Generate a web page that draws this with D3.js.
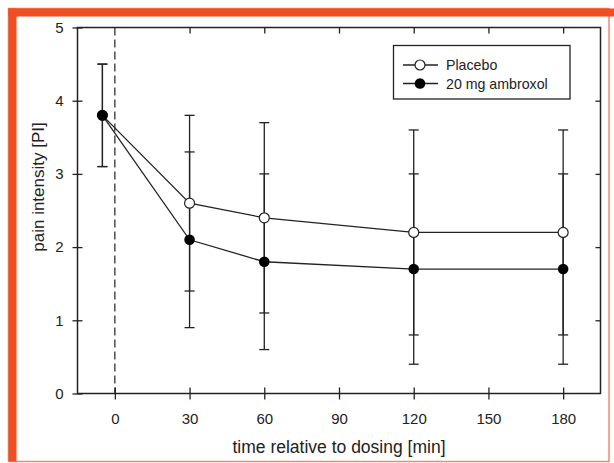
<!DOCTYPE html>
<html>
<head>
<meta charset="utf-8">
<script src="https://cdn.jsdelivr.net/npm/d3@7"></script>
<style>
  body { margin: 0; background: #fff; }
  svg text { font-family: "Liberation Sans", Arial, sans-serif; fill: #222; }
</style>
</head>
<body>
<div id="area"></div>
<script>
// data
let times = [-5, 30, 60, 120, 180]
let placebo = [3.8, 2.6, 2.4, 2.2, 2.2]
let placebo_sd = [0.7, 1.2, 1.3, 1.4, 1.4]
let ambroxol = [3.8, 2.1, 1.8, 1.7, 1.7]
let ambroxol_sd = [0.7, 1.2, 1.2, 1.3, 1.3]
let x_ticks = [0, 30, 60, 90, 120, 150, 180]
let y_ticks = [0, 1, 2, 3, 4, 5]
let series_names = ['Placebo', '20 mg ambroxol']

let width = 614
let height = 463
let ink = '#222'
let frame_color = '#F04E23'
let frame_light = '#F3896B'

let svg = d3.select('#area').append('svg')
  .attr('width', width).attr('height', height)

// orange frame
svg.append('rect')
  .attr('x', 8.5).attr('y', 8.5).attr('width', 600.5).attr('height', 453)
  .attr('fill', 'none').attr('stroke', frame_light).attr('stroke-width', 1.5)
svg.append('rect').attr('x', 8.5).attr('y', 8.5).attr('width', 8).attr('height', 453).attr('fill', frame_color)
svg.append('rect').attr('x', 8.5).attr('y', 8.5).attr('width', 605.5).attr('height', 8).attr('fill', frame_color)

let plot_left = 77.5, plot_right = 600.5, plot_top = 27.5, plot_bottom = 393.5

let x = d3.scaleLinear().domain([-15, 195]).range([plot_left, plot_right])
let y = d3.scaleLinear().domain([0, 5]).range([plot_bottom, plot_top])

// axes (bottom & left ticks cross the line, top & right point inward)
svg.append('g').attr('transform', 'translate(0,' + plot_bottom + ')')
  .call(d3.axisBottom(x).tickValues(x_ticks).tickSize(6).tickPadding(14))
  .call(g => g.selectAll('.tick line').attr('y1', -6))
svg.append('g').attr('transform', 'translate(' + plot_left + ',0)')
  .call(d3.axisLeft(y).tickValues(y_ticks).tickFormat(d3.format('d')).tickSize(5).tickPadding(9))
  .call(g => g.selectAll('.tick line').attr('x1', 5))
svg.append('g').attr('transform', 'translate(0,' + plot_top + ')')
  .call(d3.axisTop(x).tickValues(x_ticks.slice(1)).tickSize(-6).tickFormat(''))
svg.append('g').attr('transform', 'translate(' + plot_right + ',0)')
  .call(d3.axisRight(y).tickValues(y_ticks.slice(1, -1)).tickSize(-5).tickFormat(''))

svg.selectAll('.tick line').attr('stroke', ink).attr('stroke-width', 1.3)
svg.selectAll('.tick text').attr('font-size', 15).attr('fill', ink)
  .attr('font-family', '"Liberation Sans", Arial, sans-serif')

// plain box edges instead of the axis domain paths
svg.selectAll('.domain').remove()
svg.append('rect').attr('x', plot_left).attr('y', plot_top)
  .attr('width', plot_right - plot_left).attr('height', plot_bottom - plot_top)
  .attr('fill', 'none').attr('stroke', ink).attr('stroke-width', 1.5)

// dosing line at t = 0
svg.append('line')
  .attr('x1', x(0)).attr('x2', x(0)).attr('y1', plot_top).attr('y2', plot_bottom)
  .attr('stroke', ink).attr('stroke-width', 1.2).attr('stroke-dasharray', '8,4')

// axis titles
svg.append('text').attr('x', (plot_left + plot_right) / 2).attr('y', 453)
  .attr('text-anchor', 'middle').attr('font-size', 17.5).text('time relative to dosing [min]')
svg.append('text').attr('transform', 'translate(44,187) rotate(-90)')
  .attr('text-anchor', 'middle').attr('font-size', 17).text('pain intensity [PI]')

let cap = 5
function drawErrors(vals, sds) {
  vals.forEach(function(v, i) {
    let g = svg.append('g').attr('stroke', ink).attr('stroke-width', 1.3)
    g.append('line').attr('x1', x(times[i])).attr('x2', x(times[i]))
      .attr('y1', y(v - sds[i])).attr('y2', y(v + sds[i]))
    ;[v - sds[i], v + sds[i]].forEach(function(e) {
      g.append('line').attr('x1', x(times[i]) - cap).attr('x2', x(times[i]) + cap)
        .attr('y1', y(e)).attr('y2', y(e))
    })
  })
}
drawErrors(placebo, placebo_sd)
drawErrors(ambroxol, ambroxol_sd)

let line = d3.line().x((d, i) => x(times[i])).y(d => y(d))
;[placebo, ambroxol].forEach(function(vals) {
  svg.append('path').datum(vals).attr('d', line)
    .attr('fill', 'none').attr('stroke', ink).attr('stroke-width', 1.3)
})

svg.selectAll('.pl').data(placebo).enter().append('circle')
  .attr('cx', (d, i) => x(times[i])).attr('cy', d => y(d)).attr('r', 5)
  .attr('fill', '#fff').attr('stroke', ink).attr('stroke-width', 1.2)
svg.selectAll('.am').data(ambroxol).enter().append('circle')
  .attr('cx', (d, i) => x(times[i])).attr('cy', d => y(d)).attr('r', 5.3)
  .attr('fill', '#000')

// legend
let legend = svg.append('g')
legend.append('rect').attr('x', 393.5).attr('y', 45.5).attr('width', 176.5).attr('height', 53.5)
  .attr('fill', '#fff').attr('stroke', ink).attr('stroke-width', 1.3)
series_names.forEach(function(name, i) {
  let ly = 65 + i * 18.5
  legend.append('line').attr('x1', 403).attr('x2', 438).attr('y1', ly).attr('y2', ly)
    .attr('stroke', ink).attr('stroke-width', 1.3)
  legend.append('circle').attr('cx', 420).attr('cy', ly).attr('r', i ? 5.3 : 5)
    .attr('fill', i ? '#000' : '#fff').attr('stroke', i ? 'none' : ink).attr('stroke-width', 1.2)
  legend.append('text').attr('x', 446).attr('y', ly + 5).attr('font-size', 14.2).text(name)
})
</script>
</body>
</html>
